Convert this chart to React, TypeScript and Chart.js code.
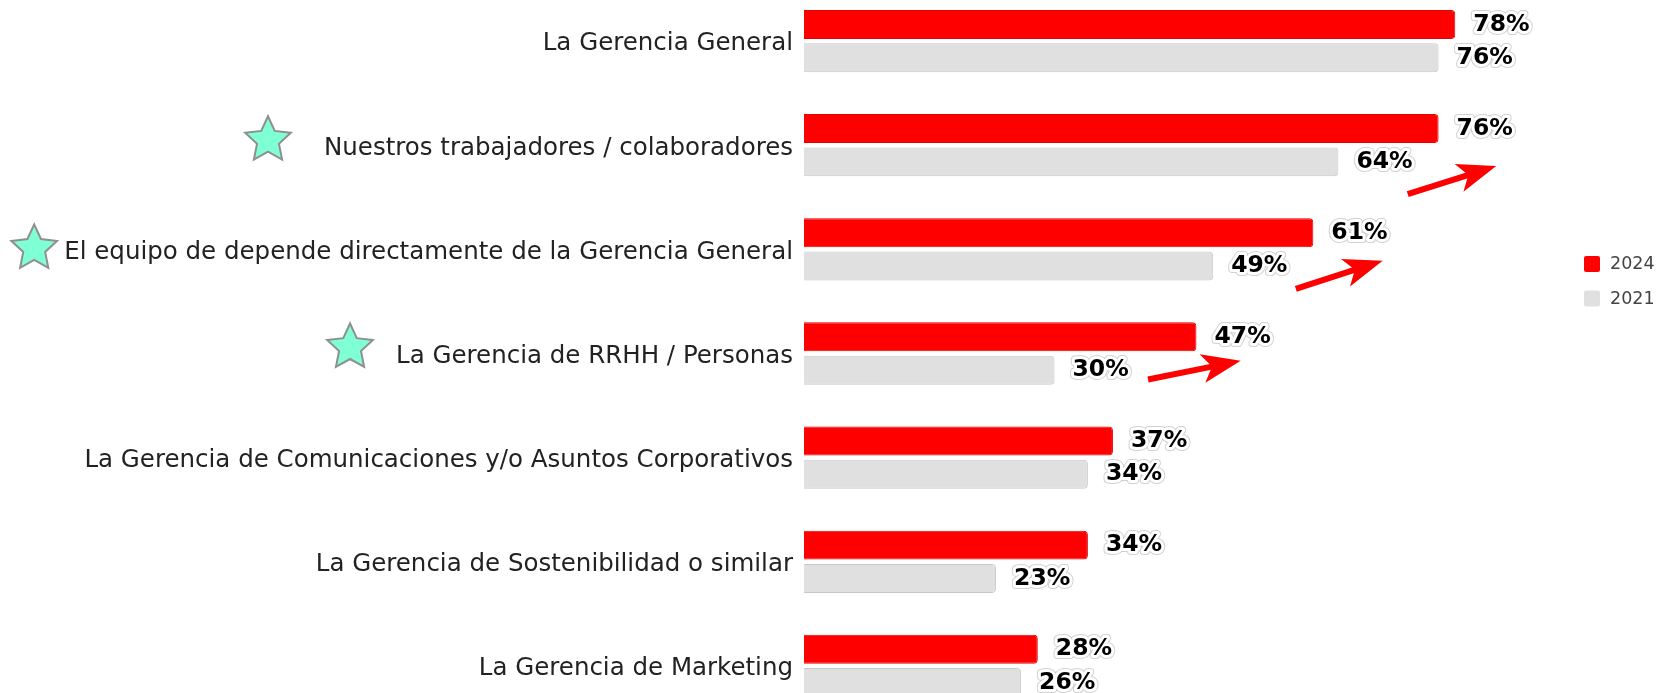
import React, { useEffect, useRef } from "react";
import { Chart, registerables } from "chart.js";

Chart.register(...registerables);

const categories = [
  "La Gerencia General",
  "Nuestros trabajadores / colaboradores",
  "El equipo de depende directamente de la Gerencia General",
  "La Gerencia de RRHH / Personas",
  "La Gerencia de Comunicaciones y/o Asuntos Corporativos",
  "La Gerencia de Sostenibilidad o similar",
  "La Gerencia de Marketing",
];
const seriesNames = ["2024", "2021"];
const values2024 = [78, 76, 61, 47, 37, 34, 28];
const values2021 = [76, 64, 49, 30, 34, 23, 26];

// annotations: stars beside some labels, arrows showing improvement
const starCategories = [1, 2, 3];
const arrowCategories = [1, 2, 3];
const arrowFromValue = [72.3, 58.9, 41.2];
const arrowToValue = [82.9, 69.3, 52.3];
const arrowFromOffset = [0.47, 0.38, 0.25];
const arrowToOffset = [0.2, 0.11, 0.07];

// annotation layout (pixels)
const starGap = [56, 30, 46];
const starDy = [-5, -1, -6];

const RED = "#ff0000";
const GRAY = "#e0e0e0";
const LABEL_SIZE = 24.5;
const LABEL_FONT = `${LABEL_SIZE}px 'DejaVu Sans'`;
const VALUE_FONT = "bold 23.5px 'DejaVu Sans'";

function drawStar(ctx: CanvasRenderingContext2D, cx: number, cy: number, r: number) {
  const inner = r * 0.48;
  ctx.beginPath();
  for (let i = 0; i < 10; i++) {
    const rad = i % 2 === 0 ? r : inner;
    const a = -Math.PI / 2 + (i * Math.PI) / 5;
    const x = cx + rad * Math.cos(a);
    const y = cy + rad * Math.sin(a);
    if (i === 0) ctx.moveTo(x, y);
    else ctx.lineTo(x, y);
  }
  ctx.closePath();
  ctx.fillStyle = "#7fffd4";
  ctx.fill();
  ctx.lineWidth = 2;
  ctx.lineJoin = "miter";
  ctx.strokeStyle = "#8f8f8f";
  ctx.stroke();
}

function drawArrow(ctx: CanvasRenderingContext2D, x1: number, y1: number, x2: number, y2: number) {
  const dx = x2 - x1;
  const dy = y2 - y1;
  const len = Math.hypot(dx, dy);
  const ux = dx / len;
  const uy = dy / len;
  const px = -uy;
  const py = ux;
  const L = 39;
  const W = 29;
  ctx.strokeStyle = RED;
  ctx.fillStyle = RED;
  ctx.lineWidth = 6;
  ctx.lineCap = "butt";
  ctx.beginPath();
  ctx.moveTo(x1, y1);
  ctx.lineTo(x2 - ux * L * 0.72, y2 - uy * L * 0.72);
  ctx.stroke();
  ctx.beginPath();
  ctx.moveTo(x2, y2);
  ctx.lineTo(x2 - ux * L + px * W / 2, y2 - uy * L + py * W / 2);
  ctx.lineTo(x2 - ux * L * 0.75, y2 - uy * L * 0.75);
  ctx.lineTo(x2 - ux * L - px * W / 2, y2 - uy * L - py * W / 2);
  ctx.closePath();
  ctx.fill();
}

const overlayPlugin = {
  id: "overlay",
  afterDatasetsDraw(chart: any) {
    const ctx: CanvasRenderingContext2D = chart.ctx;
    const xs = chart.scales.x;
    const ys = chart.scales.y;
    // value labels
    ctx.save();
    ctx.font = VALUE_FONT;
    ctx.textAlign = "left";
    ctx.textBaseline = "middle";
    ctx.lineJoin = "round";
    chart.data.datasets.forEach((ds: any, di: number) => {
      const meta = chart.getDatasetMeta(di);
      meta.data.forEach((el: any, i: number) => {
        const txt = ds.data[i] + "%";
        const x = el.x + 18;
        const y = el.y;
        ctx.strokeStyle = "rgba(180,180,180,0.6)";
        ctx.lineWidth = 8;
        ctx.strokeText(txt, x, y);
        ctx.strokeStyle = "#ffffff";
        ctx.lineWidth = 6;
        ctx.strokeText(txt, x, y);
        ctx.fillStyle = "#000000";
        ctx.fillText(txt, x, y);
      });
    });
    ctx.restore();

    // stars next to labels
    ctx.save();
    ctx.font = LABEL_FONT;
    starCategories.forEach((ci, k) => {
      const w = ctx.measureText(categories[ci]).width;
      const textStart = ys.right - 11 - w;
      const cy = ys.getPixelForValue(ci) + starDy[k];
      drawStar(ctx, textStart - starGap[k], cy, 24);
    });
    ctx.restore();

    // arrows
    ctx.save();
    arrowCategories.forEach((ci, k) => {
      const x1 = xs.getPixelForValue(arrowFromValue[k]);
      const x2 = xs.getPixelForValue(arrowToValue[k]);
      const y1 = ys.getPixelForValue(ci + arrowFromOffset[k]);
      const y2 = ys.getPixelForValue(ci + arrowToOffset[k]);
      drawArrow(ctx, x1, y1, x2, y2);
    });
    ctx.restore();

    // legend
    ctx.save();
    ctx.font = "17.5px 'DejaVu Sans'";
    ctx.textBaseline = "middle";
    ctx.textAlign = "left";
    const legendTop = ys.getPixelForValue(2.14);
    chart.data.datasets.forEach((ds: any, di: number) => {
      const cy = legendTop + di * 34.5;
      ctx.fillStyle = ds.backgroundColor;
      ctx.beginPath();
      (ctx as any).roundRect(1584, cy - 8, 16, 16, 2);
      ctx.fill();
      ctx.fillStyle = "#444444";
      ctx.fillText(ds.label, 1610, cy + 1);
    });
    ctx.restore();
  },
};

export default function App() {
  const ref = useRef<HTMLCanvasElement>(null);
  useEffect(() => {
    if (!ref.current) return;
    const chart = new Chart(ref.current, {
      type: "bar",
      data: {
        labels: categories,
        datasets: [
          {
            label: seriesNames[0],
            data: values2024,
            backgroundColor: RED,
            borderColor: "#e60000",
            borderWidth: 1,
            borderRadius: 4,
            barPercentage: 0.87,
            categoryPercentage: 0.64,
          },
          {
            label: seriesNames[1],
            data: values2021,
            backgroundColor: GRAY,
            borderColor: "#c9c9c9",
            borderWidth: 1,
            borderRadius: 4,
            barPercentage: 0.87,
            categoryPercentage: 0.64,
          },
        ],
      },
      options: {
        indexAxis: "y",
        responsive: false,
        animation: false,
        layout: { padding: { left: 0, right: 20, top: 0, bottom: 0 } },
        plugins: { legend: { display: false }, tooltip: { enabled: false } },
        scales: {
          x: { display: false, min: 0, max: 100 },
          y: {
            afterFit(scale: any) {
              scale.width = 804;
              scale.paddingTop = 0;
              scale.paddingBottom = 0;
            },
            grid: { display: false, drawTicks: false },
            border: { display: false },
            ticks: {
              padding: 11,
              labelOffset: 3,
              color: "#222222",
              font: { family: "'DejaVu Sans'", size: LABEL_SIZE },
            },
          },
        },
      },
      plugins: [overlayPlugin],
    } as any);
    return () => chart.destroy();
  }, []);
  return (
    <div style={{ position: "fixed", left: 0, top: -11, width: 1659, height: 729 }}>
      <canvas ref={ref} width={1659} height={729} style={{ width: 1659, height: 729, display: "block" }} />
    </div>
  );
}
